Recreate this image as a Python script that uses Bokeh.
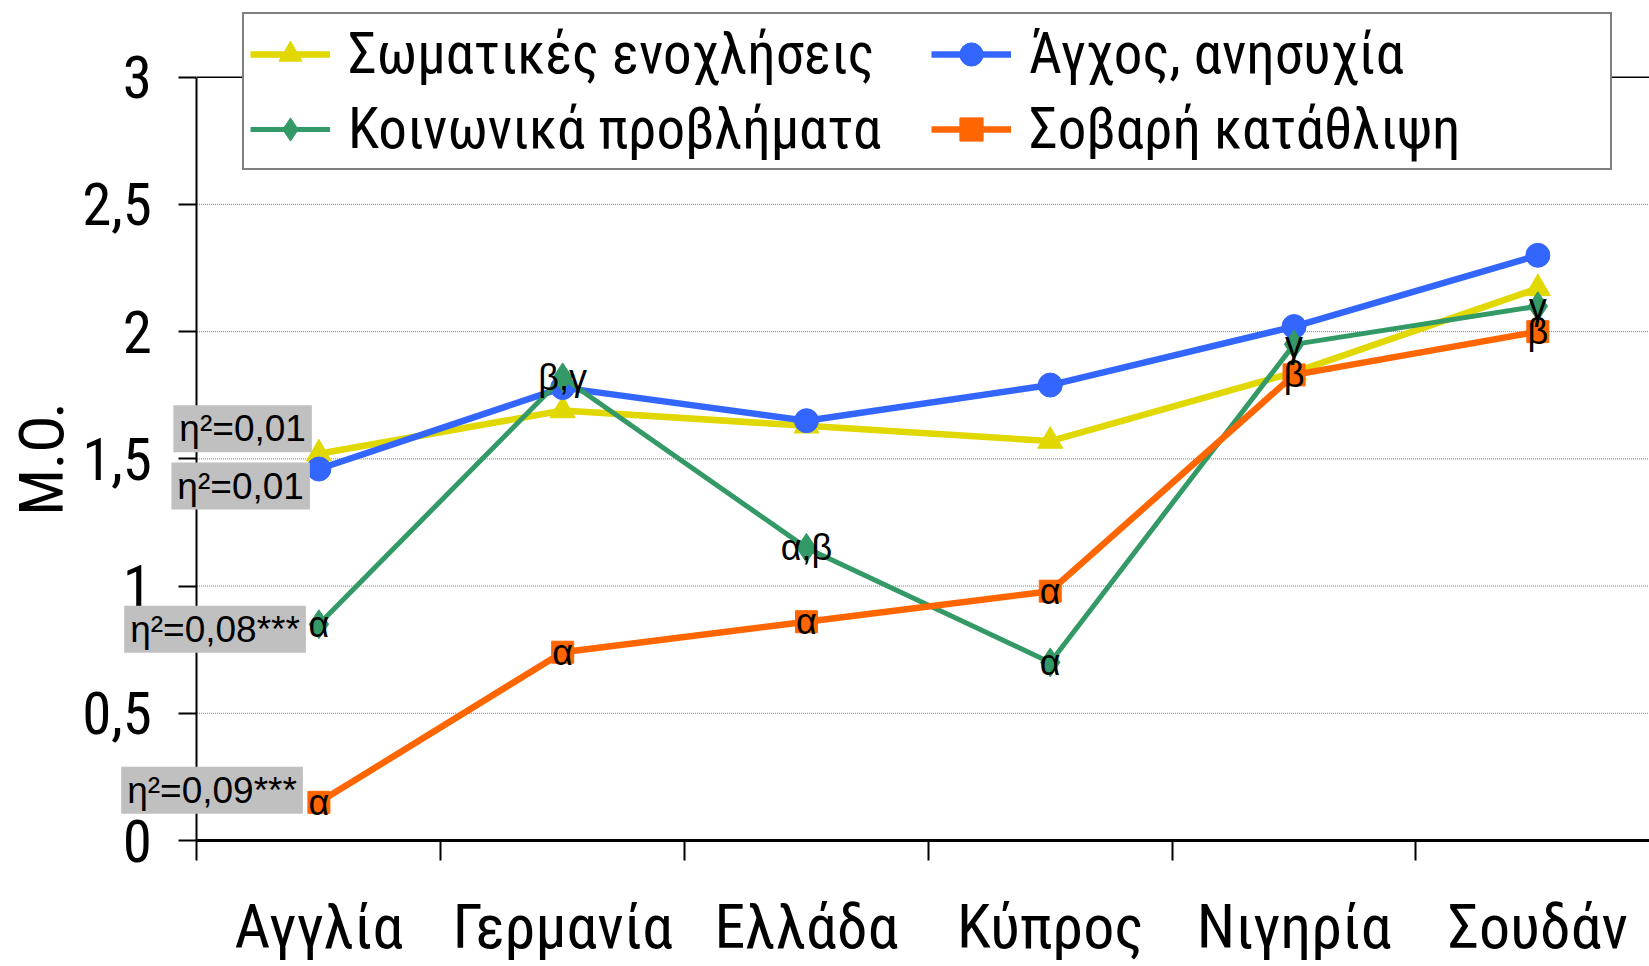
from bokeh.plotting import figure
from bokeh.models import Range1d, FixedTicker, Legend, LegendItem, Label
from bokeh.embed import file_html
from bokeh.resources import INLINE
from bokeh.core.properties import value

# ---- data ----
countries = ["Αγγλία", "Γερμανία", "Ελλάδα", "Κύπρος", "Νιγηρία", "Σουδάν"]
somatic = [1.52, 1.69, 1.63, 1.57, 1.84, 2.17]
anxiety = [1.46, 1.78, 1.65, 1.79, 2.02, 2.30]
social = [0.85, 1.82, 1.15, 0.70, 1.95, 2.10]
depression = [0.15, 0.74, 0.86, 0.98, 1.83, 2.00]
social_letters = ["α", "β,γ", "α,β", "α", "γ", "γ"]
depression_letters = ["α", "α", "α", "α", "β", "β"]
series_names = ["Σωματικές ενοχλήσεις", "Άγχος, ανησυχία",
                "Κοινωνικά προβλήματα", "Σοβαρή κατάθλιψη"]
eta_labels = ["η²=0,01", "η²=0,01", "η²=0,08***", "η²=0,09***"]
y_ticks = [0, 0.5, 1, 1.5, 2, 2.5, 3]
y_tick_labels = ["0", "0,5", "1", "1,5", "2", "2,5", "3"]
y_title = "Μ.Ο."

# ---- styles ----
YEL, BLU, GRN, ORA = "#E0D800", "#3366FF", "#339966", "#FF6600"
NARROW = "Roboto Condensed"
SANS = "Liberation Sans"

xs = [i + 0.5 for i in range(len(countries))]
X_START, X_END = -0.806, 5.958
Y_START, Y_END = -0.4952, 3.3015

p = figure(width=1649, height=966, x_range=Range1d(X_START, X_END), y_range=Range1d(Y_START, Y_END),
           output_backend="svg", toolbar_location=None,
           min_border_left=0, min_border_right=0, min_border_top=0, min_border_bottom=0)
p.outline_line_color = None
p.background_fill_color = "white"
p.xgrid.grid_line_color = None
p.ygrid.grid_line_color = None

# horizontal gridlines (from the y axis to the right edge)
grid_vals = y_ticks[1:-1]
p.segment(x0=[0] * len(grid_vals), x1=[X_END] * len(grid_vals), y0=grid_vals, y1=grid_vals,
          line_color="#7f7f7f", line_width=1, line_dash="1 1")
p.segment(x0=[0], x1=[X_END], y0=[y_ticks[-1]], y1=[y_ticks[-1]], line_color="black", line_width=1.5)

# x axis, drawn at y = 0
xa = p.xaxis[0]
xa.fixed_location = 0
xa.bounds = (0, X_END)
xa.ticker = FixedTicker(ticks=xs, minor_ticks=list(range(len(countries) + 1)))
xa.major_label_overrides = {x: c for x, c in zip(xs, countries)}
xa.major_tick_out = 0
xa.major_tick_in = 0
xa.minor_tick_out = 20
xa.minor_tick_in = 0
xa.minor_tick_line_color = "black"
xa.minor_tick_line_width = 2
xa.axis_line_width = 3
xa.axis_line_color = "black"
xa.major_label_text_font = NARROW
xa.major_label_text_font_size = "62px"
xa.major_label_text_color = "black"
xa.major_label_standoff = 29

# y axis, drawn at x = 0
ya = p.yaxis[0]
ya.fixed_location = 0
ya.bounds = (y_ticks[0], y_ticks[-1])
ya.ticker = FixedTicker(ticks=y_ticks, minor_ticks=[])
ya.major_label_overrides = {t: l for t, l in zip(y_ticks, y_tick_labels)}
ya.major_tick_out = 18
ya.major_tick_in = 0
ya.major_tick_line_width = 2
ya.major_tick_line_color = "black"
ya.axis_line_width = 2
ya.axis_line_color = "black"
ya.major_label_text_font = NARROW
ya.major_label_text_font_size = "59px"
ya.major_label_text_color = "black"
ya.major_label_standoff = 27
ya.axis_label = y_title
ya.axis_label_text_font = NARROW
ya.axis_label_text_font_size = "62px"
ya.axis_label_text_font_style = "normal"
ya.axis_label_text_color = "black"
ya.axis_label_standoff = 1

# series
specs = [
    (somatic, YEL, "triangle", 25, 6.5),
    (anxiety, BLU, "circle", 24, 6.5),
    (social, GRN, "diamond", 29, 5),
    (depression, ORA, "square", 22, 6.5),
]
items = {}
for name, (vals, col, mk, sz, lw) in zip(series_names, specs):
    rl = p.line(xs, vals, line_color=col, line_width=lw)
    rm = p.scatter(xs, vals, marker=mk, size=sz, fill_color=col, line_color=col)
    items[name] = LegendItem(label=name, renderers=[rl, rm])

# significance letters
p.text(xs, social, text=social_letters, text_align="center", text_baseline="middle",
       text_font=value(SANS), text_font_size="36px", text_color="black")
p.text(xs, depression, text=depression_letters, text_align="center", text_baseline="middle",
       text_font=value(SANS), text_font_size="36px", text_color="black")

# eta-squared boxes, anchored to each series' first point
eta_offsets = [(-7, 25), (-9, -17), (-13, -5), (-16, 12)]
for lab, vals, (dx, dy) in zip(eta_labels, [somatic, anxiety, social, depression], eta_offsets):
    p.add_layout(Label(x=xs[0], y=vals[0], x_offset=dx, y_offset=dy, text=lab,
                       text_align="right", text_baseline="middle",
                       text_font=SANS, text_font_size="37px", text_color="black",
                       background_fill_color="#C0C0C0", padding=dict(x=6, y=3)))

legend = Legend(items=[items[series_names[0]], items[series_names[2]],
                       items[series_names[1]], items[series_names[3]]],
                location=(242, 796), orientation="vertical", ncols=2,
                label_text_font=NARROW, label_text_font_size="57px", label_text_color="black",
                glyph_width=80, glyph_height=58, label_standoff=18, padding=6, spacing=8,
                label_width=575, margin=0, border_line_color="black", border_line_width=2,
                background_fill_color="white", background_fill_alpha=1)
p.add_layout(legend)

open("out.html", "w").write(file_html(p, INLINE))
